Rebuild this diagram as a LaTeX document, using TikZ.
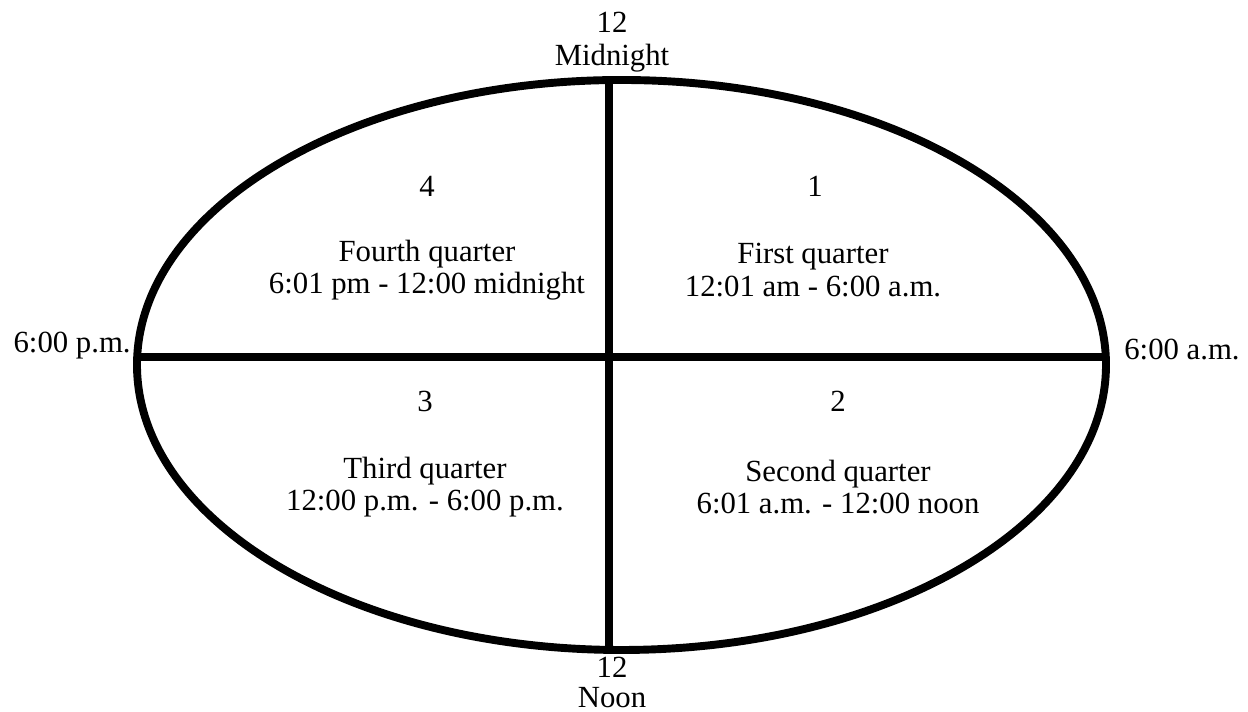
\documentclass[tikz,border=0pt]{standalone}
\usepackage{fontspec}
\setmainfont{Liberation Serif}
\usepackage{tikz}

\tikzset{
  rim/.style={line width=4.5pt},
  lbl/.style={font=\fontsize{17.5}{18.4}\selectfont, align=center, inner sep=0pt}
}

\begin{document}
\begin{tikzpicture}[scale=1]
  \useasboundingbox (0,0) rectangle (24.96,14.24);
  \draw[rim] (12.43,6.94) ellipse (9.69 and 5.70);
  \coordinate (top) at (12.18,12.64);
  \coordinate (bottom) at (12.18,1.24);
  \coordinate (left) at (2.744,7.10);
  \coordinate (right) at (22.116,7.10);
  \draw[rim] (top) -- (bottom);
  \draw[rim] (left) -- (right);

  \node[lbl] (midnight) at (12.24,13.40) {12\\Midnight};
  \node[lbl] (noon) at (12.24,0.59) {12\\[-1pt]Noon};
  \node[lbl, anchor=base east] (pm) at (2.62,7.18) {6:00 p.m.};
  \node[lbl, anchor=base west] (am) at (22.48,7.04) {6:00 a.m.};

  \node[lbl] (n4) at (8.54,10.52) {4};
  \node[lbl] (q4) at (8.54,8.84) {Fourth quarter\\6:01 pm - 12:00 midnight};
  \node[lbl] (n1) at (16.30,10.52) {1};
  \node[lbl] (q1) at (16.26,8.84) {First quarter\\12:01 am - 6:00 a.m.};
  \node[lbl] (n3) at (8.50,6.22) {3};
  \node[lbl] (q3) at (8.50,4.50) {Third quarter\\12:00 p.m. - 6:00 p.m.};
  \node[lbl] (n2) at (16.76,6.22) {2};
  \node[lbl] (q2) at (16.76,4.50) {Second quarter\\6:01 a.m. - 12:00 noon};
\end{tikzpicture}
\end{document}
